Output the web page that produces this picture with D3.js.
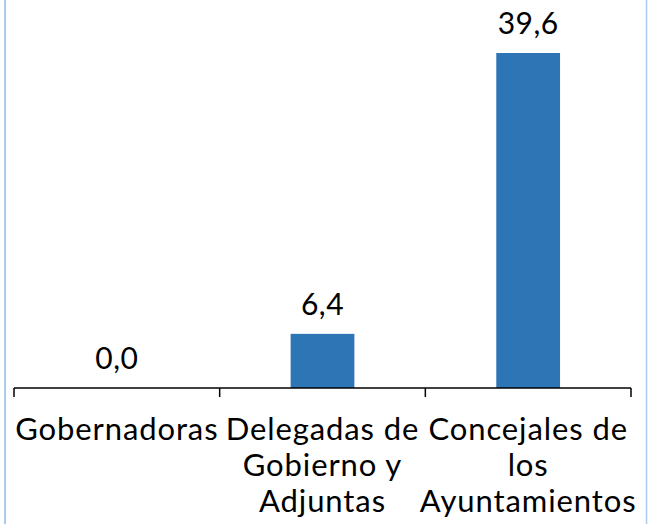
<!DOCTYPE html>
<html lang="es">
<head>
  <meta charset="UTF-8">
  <title>Mujeres en cargos</title>
  <script src="https://d3js.org/d3.v7.min.js"></script>
  <style>
    body { margin: 0; background: #fff; }
    svg { display: block; font-family: "Lato", "Open Sans", sans-serif; }
    .value-label { font-size: 30px; fill: #000; letter-spacing: 0.5px; }
    .cat-label { font-size: 31px; fill: #000; letter-spacing: 0.9px; }
  </style>
</head>
<body>
  <svg width="650" height="524"></svg>

  <script>
    const categories = ["Gobernadoras", "Delegadas de Gobierno y Adjuntas", "Concejales de los Ayuntamientos"];
    const values = [0.0, 6.4, 39.6];
    const fmt = v => v.toFixed(1).replace(".", ",");

    const svg = d3.select("svg");
    const axisY = 388;

    // frame edges
    svg.append("line").attr("x1", 5).attr("x2", 5).attr("y1", 0).attr("y2", 524)
      .attr("stroke", "#a9cbef").attr("stroke-width", 2);
    svg.append("line").attr("x1", 646.5).attr("x2", 646.5).attr("y1", 0).attr("y2", 524)
      .attr("stroke", "#a9cbef").attr("stroke-width", 1.5);

    const xScale = d3.scaleBand()
      .domain(categories)
      .range([14, 631])
      .paddingInner(0.69)
      .paddingOuter(0.345);

    const band = d3.scaleBand().domain(categories).range([14, 631]);

    const yScale = d3.scaleLinear()
      .domain([0, 45])
      .range([axisY, axisY - 45 * (335 / 39.6)]);

    svg.selectAll("rect.bar")
      .data(values)
      .enter()
      .append("rect")
      .attr("class", "bar")
      .attr("x", (d, i) => xScale(categories[i]))
      .attr("width", xScale.bandwidth())
      .attr("y", d => yScale(d))
      .attr("height", d => yScale(0) - yScale(d))
      .attr("fill", "#2e75b6");

    svg.selectAll("text.value-label")
      .data(values)
      .enter()
      .append("text")
      .attr("class", "value-label")
      .attr("x", (d, i) => xScale(categories[i]) + xScale.bandwidth() / 2)
      .attr("y", d => yScale(d) - 19)
      .attr("text-anchor", "middle")
      .text(d => fmt(d));

    // axis line with tick marks on band edges
    const edges = categories.map(c => band(c)).concat([631]);
    svg.append("line")
      .attr("x1", 14).attr("x2", 631)
      .attr("y1", axisY).attr("y2", axisY)
      .attr("stroke", "#000").attr("stroke-width", 1.5);
    svg.selectAll("line.tick")
      .data(edges)
      .enter()
      .append("line")
      .attr("class", "tick")
      .attr("x1", d => d).attr("x2", d => d)
      .attr("y1", axisY).attr("y2", axisY + 9)
      .attr("stroke", "#000").attr("stroke-width", 1.5);

    // category labels, word-wrapped to band width
    const maxW = 225;
    categories.forEach(c => {
      const t = svg.append("text")
        .attr("class", "cat-label")
        .attr("text-anchor", "middle");
      const cx = band(c) + band.bandwidth() / 2;
      const words = c.split(" ");
      let lines = [], line = [];
      words.forEach(w => {
        line.push(w);
        t.text(line.join(" "));
        if (t.node().getComputedTextLength() > maxW && line.length > 1) {
          line.pop();
          lines.push(line.join(" "));
          line = [w];
        }
      });
      lines.push(line.join(" "));
      t.text(null);
      lines.forEach((l, i) => {
        t.append("tspan")
          .attr("x", cx)
          .attr("y", 440 + i * 36)
          .text(l);
      });
    });
  </script>
</body>
</html>
